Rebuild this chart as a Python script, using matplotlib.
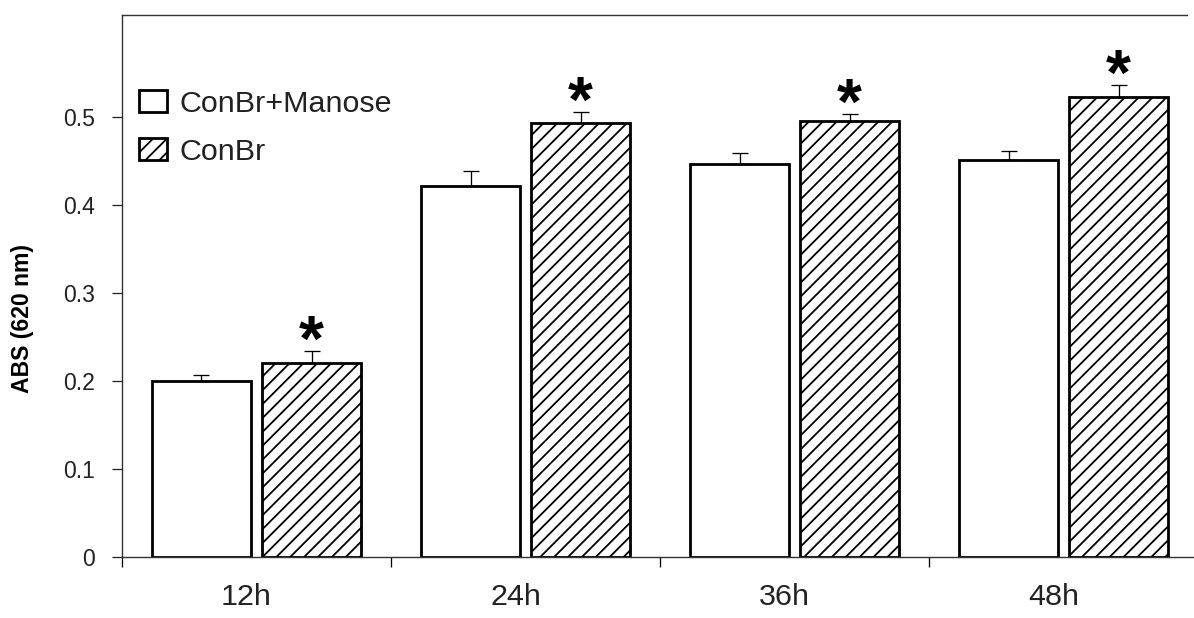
import matplotlib
matplotlib.use("Agg")
import matplotlib.pyplot as plt
import matplotlib.transforms as mtransforms
import numpy as np

# Absorbance at 620 nm over time
categories = ["12h", "24h", "36h", "48h"]
series_labels = ["ConBr+Manose", "ConBr"]
manose_vals = [0.200, 0.422, 0.447, 0.451]
manose_err = [0.007, 0.017, 0.012, 0.010]
conbr_vals = [0.221, 0.493, 0.495, 0.523]
conbr_err = [0.013, 0.013, 0.009, 0.014]
significant = [True, True, True, True]
y_ticks = [0, 0.1, 0.2, 0.3, 0.4, 0.5]
y_ticklabels = ["0", "0.1", "0.2", "0.3", "0.4", "0.5"]

DPI = 125


def px(v):
    """Convert a size in pixels to points at the output resolution."""
    return v * 72.0 / DPI


plt.rcParams["font.family"] = ["Liberation Sans", "DejaVu Sans"]
plt.rcParams["hatch.linewidth"] = px(1.8)
plt.rcParams["hatch.color"] = "black"

W, H = 1194, 618
fig = plt.figure(figsize=(W / DPI, H / DPI), dpi=DPI)
ax = fig.add_axes([122 / W, (H - 557) / H, (W - 122) / W, (557 - 15) / H])

x = np.arange(len(categories))
width = 0.368
offset = 0.2045

err_kw = dict(ecolor="black", elinewidth=px(1.3), capsize=px(8),
              capthick=px(1.3))
ax.bar(x - offset, manose_vals, width, color="white", edgecolor="black",
       linewidth=px(2.8), label=series_labels[0], zorder=2)
ax.errorbar(x - offset, manose_vals, yerr=[np.zeros(len(x)), manose_err],
            fmt="none", zorder=3, **err_kw)
ax.bar(x + offset, conbr_vals, width, color="white", edgecolor="black",
       linewidth=px(2.8), hatch="///", label=series_labels[1], zorder=2)
ax.errorbar(x + offset, conbr_vals, yerr=[np.zeros(len(x)), conbr_err],
            fmt="none", zorder=3, **err_kw)

# significance markers above the treated bars
for xi, v, e, sig in zip(x, conbr_vals, conbr_err, significant):
    if sig:
        ax.text(xi + offset, v + e + 0.008, "*", ha="center", va="center",
                fontsize=px(64), fontweight="bold", color="black")

ax.set_xlim(-0.5, 3.485)
ax.set_ylim(0, 0.616)

# y axis
ax.set_yticks(y_ticks)
ax.set_yticklabels(y_ticklabels)
ax.tick_params(axis="y", direction="out", length=px(10), width=px(1.3),
               pad=px(17), labelsize=px(23), colors="#222222")

# x axis: separators between groups, labels at group centres
ax.set_xticks([-0.5, 0.5, 1.5, 2.5])
ax.set_xticklabels([])
ax.tick_params(axis="x", which="major", direction="out", length=px(10),
               width=px(1.3))
ax.set_xticks(x, minor=True)
ax.set_xticklabels(categories, minor=True)
ax.tick_params(axis="x", which="minor", length=0, pad=px(26),
               labelsize=px(30.5), colors="#222222")
shift = mtransforms.ScaledTranslation(-10 / DPI, 0, fig.dpi_scale_trans)
for lab in ax.get_xticklabels(minor=True):
    lab.set_transform(lab.get_transform() + shift)

for side in ["left", "bottom", "top"]:
    ax.spines[side].set_linewidth(px(1.4))
    ax.spines[side].set_color("#333333")
ax.spines["top"].set_bounds(-0.5, 3.46)
ax.spines["right"].set_visible(False)

ax.set_ylabel("ABS (620 nm)", fontsize=px(23), fontweight="bold",
              va="center")
ax.yaxis.set_label_coords(-0.093, 0.44)

leg = ax.legend(loc="upper left", bbox_to_anchor=(0.0, 0.894), frameon=False,
                fontsize=px(30.5), handlelength=0.9, handleheight=0.72,
                handletextpad=0.4, labelspacing=0.65, borderaxespad=0.17)
for t in leg.get_texts():
    t.set_color("#222222")

fig.savefig("out.png", dpi=DPI)
